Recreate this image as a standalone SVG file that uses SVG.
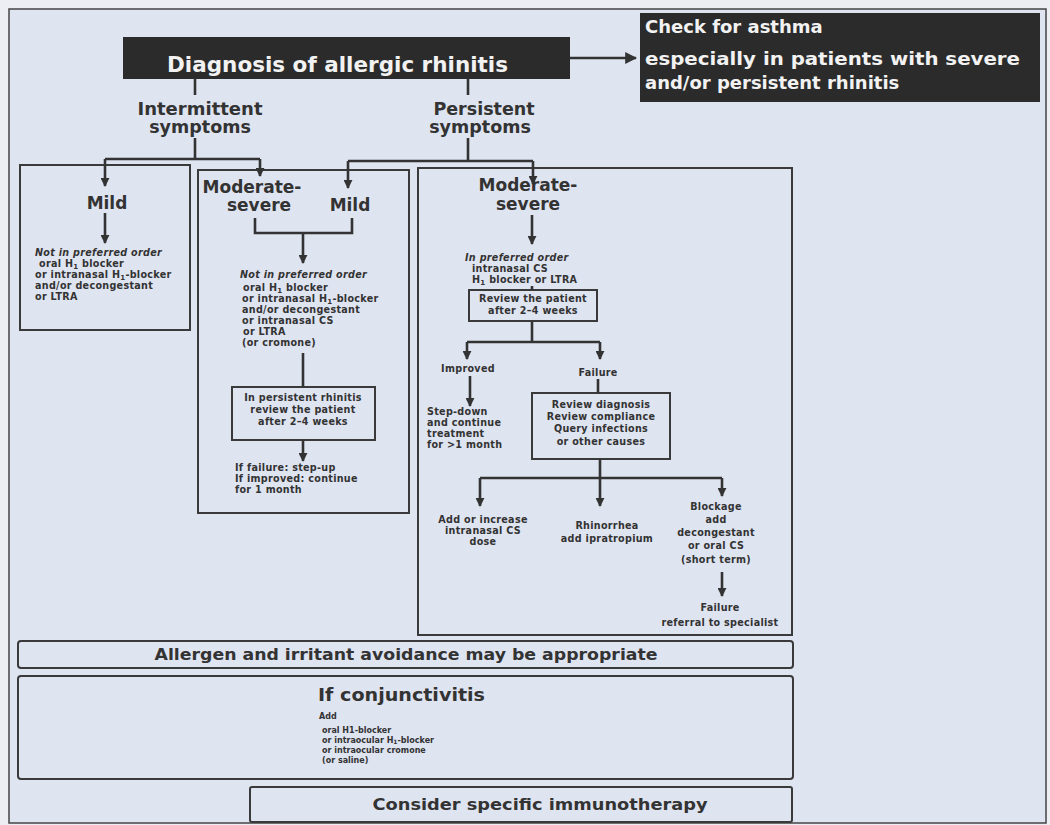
<svg xmlns="http://www.w3.org/2000/svg" width="1050" height="825" viewBox="0 0 1050 825">
<defs>
<style>
text{font-family:"DejaVu Sans","Liberation Sans",Arial,sans-serif;font-weight:bold;fill:#333}
.h{font-size:17.5px;text-anchor:middle}
.hd{font-size:17px;text-anchor:middle}
.s{font-size:9.6px;letter-spacing:0.3px}
.sc{font-size:9.6px;letter-spacing:0.3px;text-anchor:middle}
.i{font-style:italic}
.w{fill:#f2f2f2}
.c{font-size:8px}
.box{fill:none;stroke:#3a3a3a;stroke-width:2}
.dark{fill:#2b2b2b}
.ln{fill:none;stroke:#333;stroke-width:2.6}
.ar{fill:none;stroke:#333;stroke-width:2.6;marker-end:url(#ah)}
</style>
<marker id="ah" viewBox="0 0 10 10" refX="9" refY="5" markerWidth="9" markerHeight="9" markerUnits="userSpaceOnUse" orient="auto"><path d="M0,0 L10,5 L0,10 z" fill="#333"/></marker>
<marker id="ahL" viewBox="0 0 10 10" refX="9" refY="5" markerWidth="12" markerHeight="12" markerUnits="userSpaceOnUse" orient="auto"><path d="M0,0 L10,5 L0,10 z" fill="#333"/></marker>
</defs>
<rect x="0" y="0" width="1050" height="825" fill="#eceef4"/>
<rect x="9" y="9" width="1037" height="814" fill="#dfe4f1" stroke="#444" stroke-width="1.5"/>

<g id="title">
<rect class="dark" x="123" y="37" width="447" height="42"/>
<text class="w" x="167" y="72" font-size="21" textLength="341" lengthAdjust="spacingAndGlyphs">Diagnosis of allergic rhinitis</text>
</g>

<g id="asthma">
<rect class="dark" x="640" y="13" width="400" height="89"/>
<text class="w" x="645" y="33" font-size="18">Check for asthma</text>
<text class="w" x="645" y="65" font-size="18" textLength="375" lengthAdjust="spacingAndGlyphs">especially in patients with severe</text>
<text class="w" x="645" y="89" font-size="18">and/or persistent rhinitis</text>
</g>

<g id="intermittent">
<text class="h" x="200" y="115" textLength="125" lengthAdjust="spacingAndGlyphs">Intermittent</text>
<text class="h" x="200" y="133">symptoms</text>
</g>

<g id="persistent">
<text class="h" x="484" y="115">Persistent</text>
<text class="h" x="480" y="133">symptoms</text>
</g>

<g id="mild-intermittent">
<rect class="box" x="20" y="165" width="170" height="165"/>
<text class="hd" x="107" y="209">Mild</text>
<text class="s i" x="35" y="256">Not in preferred order</text>
<text class="s" x="39" y="267">oral H<tspan font-size="7" dy="1.5">1</tspan><tspan dy="-1.5"> blocker</tspan></text>
<text class="s" x="35" y="278">or intranasal H<tspan font-size="7" dy="1.5">1</tspan><tspan dy="-1.5">-blocker</tspan></text>
<text class="s" x="35" y="289">and/or decongestant</text>
<text class="s" x="35" y="300">or LTRA</text>
</g>

<g id="moderate-mild">
<rect class="box" x="198" y="170" width="211" height="343"/>
<text class="hd" x="252" y="193">Moderate-</text>
<text class="hd" x="259" y="211">severe</text>
<text class="hd" x="350" y="211">Mild</text>
<text class="s i" x="240" y="278">Not in preferred order</text>
<text class="s" x="243" y="291">oral H<tspan font-size="7" dy="1.5">1</tspan><tspan dy="-1.5"> blocker</tspan></text>
<text class="s" x="242" y="302">or intranasal H<tspan font-size="7" dy="1.5">1</tspan><tspan dy="-1.5">-blocker</tspan></text>
<text class="s" x="242" y="313">and/or decongestant</text>
<text class="s" x="242" y="324">or intranasal CS</text>
<text class="s" x="243" y="335">or LTRA</text>
<text class="s" x="242" y="346">(or cromone)</text>
</g>

<g id="review-persistent">
<rect class="box" x="232" y="387" width="143" height="53"/>
<text class="sc" x="303" y="401">In persistent rhinitis</text>
<text class="sc" x="303" y="413">review the patient</text>
<text class="sc" x="303" y="425">after 2–4 weeks</text>
</g>

<g id="failure-improved">
<text class="s" x="235" y="471">If failure: step-up</text>
<text class="s" x="235" y="482">If improved: continue</text>
<text class="s" x="235" y="493">for 1 month</text>
</g>

<g id="moderate-severe">
<rect class="box" x="418" y="168" width="374" height="467"/>
<text class="hd" x="528" y="191">Moderate-</text>
<text class="hd" x="528" y="210">severe</text>
<text class="s i" x="465" y="261">In preferred order</text>
<text class="s" x="472" y="272">intranasal CS</text>
<text class="s" x="472" y="283">H<tspan font-size="7" dy="1.5">1</tspan><tspan dy="-1.5"> blocker or LTRA</tspan></text>
</g>

<g id="review-patient">
<rect class="box" x="469" y="290" width="128" height="31"/>
<text class="sc" x="533" y="302">Review the patient</text>
<text class="sc" x="533" y="314">after 2–4 weeks</text>
</g>

<g id="improved">
<text class="sc" x="468" y="372">Improved</text>
<text class="s" x="427" y="415">Step-down</text>
<text class="s" x="427" y="426">and continue</text>
<text class="s" x="427" y="437">treatment</text>
<text class="s" x="427" y="448">for &gt;1 month</text>
</g>

<g id="failure">
<text class="sc" x="598" y="376">Failure</text>
<rect class="box" x="532" y="393" width="138" height="66"/>
<text class="sc" x="601" y="408">Review diagnosis</text>
<text class="sc" x="601" y="420">Review compliance</text>
<text class="sc" x="601" y="432">Query infections</text>
<text class="sc" x="601" y="445">or other causes</text>
</g>

<g id="increase-cs">
<text class="sc" x="483" y="523">Add or increase</text>
<text class="sc" x="483" y="534">intranasal CS</text>
<text class="sc" x="483" y="545">dose</text>
</g>

<g id="rhinorrhea">
<text class="sc" x="607" y="529">Rhinorrhea</text>
<text class="sc" x="607" y="542">add ipratropium</text>
</g>

<g id="blockage">
<text class="sc" x="716" y="510">Blockage</text>
<text class="sc" x="716" y="523">add</text>
<text class="sc" x="716" y="536">decongestant</text>
<text class="sc" x="716" y="549">or oral CS</text>
<text class="sc" x="716" y="563">(short term)</text>
</g>

<g id="referral">
<text class="sc" x="720" y="611">Failure</text>
<text class="sc" x="720" y="626">referral to specialist</text>
</g>

<g id="avoidance">
<rect class="box" x="18" y="641" width="775" height="27" rx="3"/>
<text x="406" y="660" font-size="16" text-anchor="middle" textLength="503" lengthAdjust="spacingAndGlyphs">Allergen and irritant avoidance may be appropriate</text>
</g>

<g id="conjunctivitis">
<rect class="box" x="18" y="676" width="775" height="103" rx="3"/>
<text x="318" y="701" font-size="18" textLength="167" lengthAdjust="spacingAndGlyphs">If conjunctivitis</text>
<text class="c" x="319" y="719">Add</text>
<text class="c" x="322" y="733">oral H1-blocker</text>
<text class="c" x="322" y="743">or intraocular H<tspan font-size="6" dy="1.2">1</tspan><tspan dy="-1.2">-blocker</tspan></text>
<text class="c" x="322" y="753">or intraocular cromone</text>
<text class="c" x="322" y="763">(or saline)</text>
</g>

<g id="immunotherapy">
<rect class="box" x="250" y="787" width="542" height="35" rx="2"/>
<text x="540" y="810" font-size="16" text-anchor="middle" textLength="335" lengthAdjust="spacingAndGlyphs">Consider specific immunotherapy</text>
</g>

<g id="connectors">
<path class="ln" d="M570,58 H636" marker-end="url(#ahL)"/>
<path class="ln" d="M195,79 V95"/>
<path class="ln" d="M468,79 V95"/>
<path class="ln" d="M195,138 V159"/>
<path class="ln" d="M105,159 H260"/>
<path class="ar" d="M105,159 V186"/>
<path class="ar" d="M260,159 V176"/>
<path class="ln" d="M468,138 V161"/>
<path class="ln" d="M348,161 H533"/>
<path class="ar" d="M348,161 V188"/>
<path class="ar" d="M533,161 V184"/>
<path class="ar" d="M105,213 V243"/>
<path class="ln" d="M255,218 V233 H352 V218"/>
<path class="ar" d="M303,233 V263"/>
<path class="ln" d="M303,353 V387"/>
<path class="ar" d="M303,440 V461"/>
<path class="ar" d="M532,215 V244"/>
<path class="ln" d="M532,286 V290"/>
<path class="ln" d="M532,321 V342"/>
<path class="ln" d="M467,342 H600"/>
<path class="ar" d="M467,342 V359"/>
<path class="ar" d="M600,342 V359"/>
<path class="ar" d="M470,376 V406"/>
<path class="ln" d="M598,379 V393"/>
<path class="ar" d="M600,459 V506"/>
<path class="ln" d="M480,478 H722"/>
<path class="ar" d="M480,478 V506"/>
<path class="ar" d="M722,478 V496"/>
<path class="ar" d="M722,572 V596"/>
</g>
</svg>
